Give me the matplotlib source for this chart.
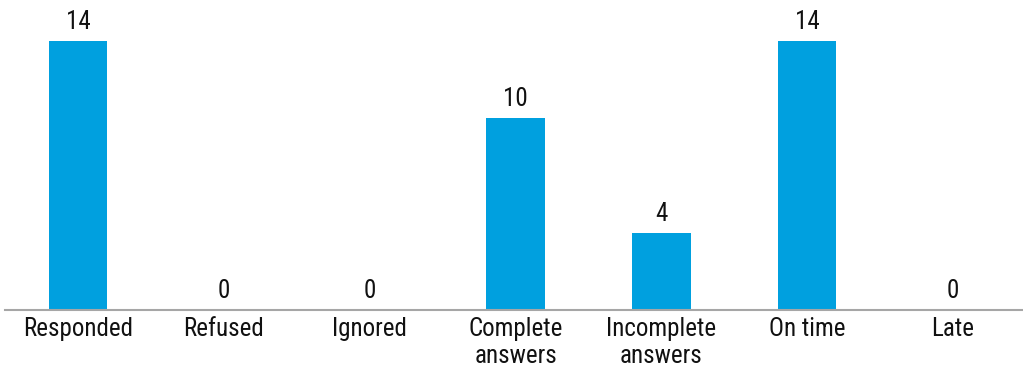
import matplotlib.pyplot as plt
from matplotlib import font_manager

categories = ["Responded", "Refused", "Ignored", "Complete\nanswers",
              "Incomplete\nanswers", "On time", "Late"]
counts = [14, 0, 0, 10, 4, 14, 0]

BAR_COLOUR = "#00A0DF"
AXIS_COLOUR = "#A6A6A6"

# a condensed sans if one is around, else the plain one
names = {f.name for f in font_manager.fontManager.ttflist}
wanted = ["Roboto Condensed", "Liberation Sans Narrow", "Archivo Narrow",
          "Asap Condensed", "Liberation Sans"]
family = next(n for n in wanted if n in names)
plt.rcParams["font.family"] = [family, "DejaVu Sans"]

fig = plt.figure(figsize=(10.23, 3.70), dpi=100)
ax = fig.add_axes([5 / 1023, 60 / 370, 1021 / 1023, 310 / 370])

x = range(len(categories))
bars = ax.bar(x, counts, width=0.4, color=BAR_COLOUR)
ax.bar_label(bars, labels=[str(v) for v in counts], padding=5,
             fontsize=18, color="#111111")

ax.set_xlim(-0.5, len(categories) - 0.5)
ax.set_ylim(0, 310 / 19.2)
ax.set_xticks(list(x))
ax.set_xticklabels(categories, fontsize=18, color="#111111", linespacing=1.15)
ax.tick_params(axis="x", length=0, pad=5)
ax.set_yticks([])

for side in ("top", "right", "left"):
    ax.spines[side].set_visible(False)
ax.spines["bottom"].set_color(AXIS_COLOUR)
ax.spines["bottom"].set_linewidth(1.5)

fig.savefig("out.png", dpi=100)
